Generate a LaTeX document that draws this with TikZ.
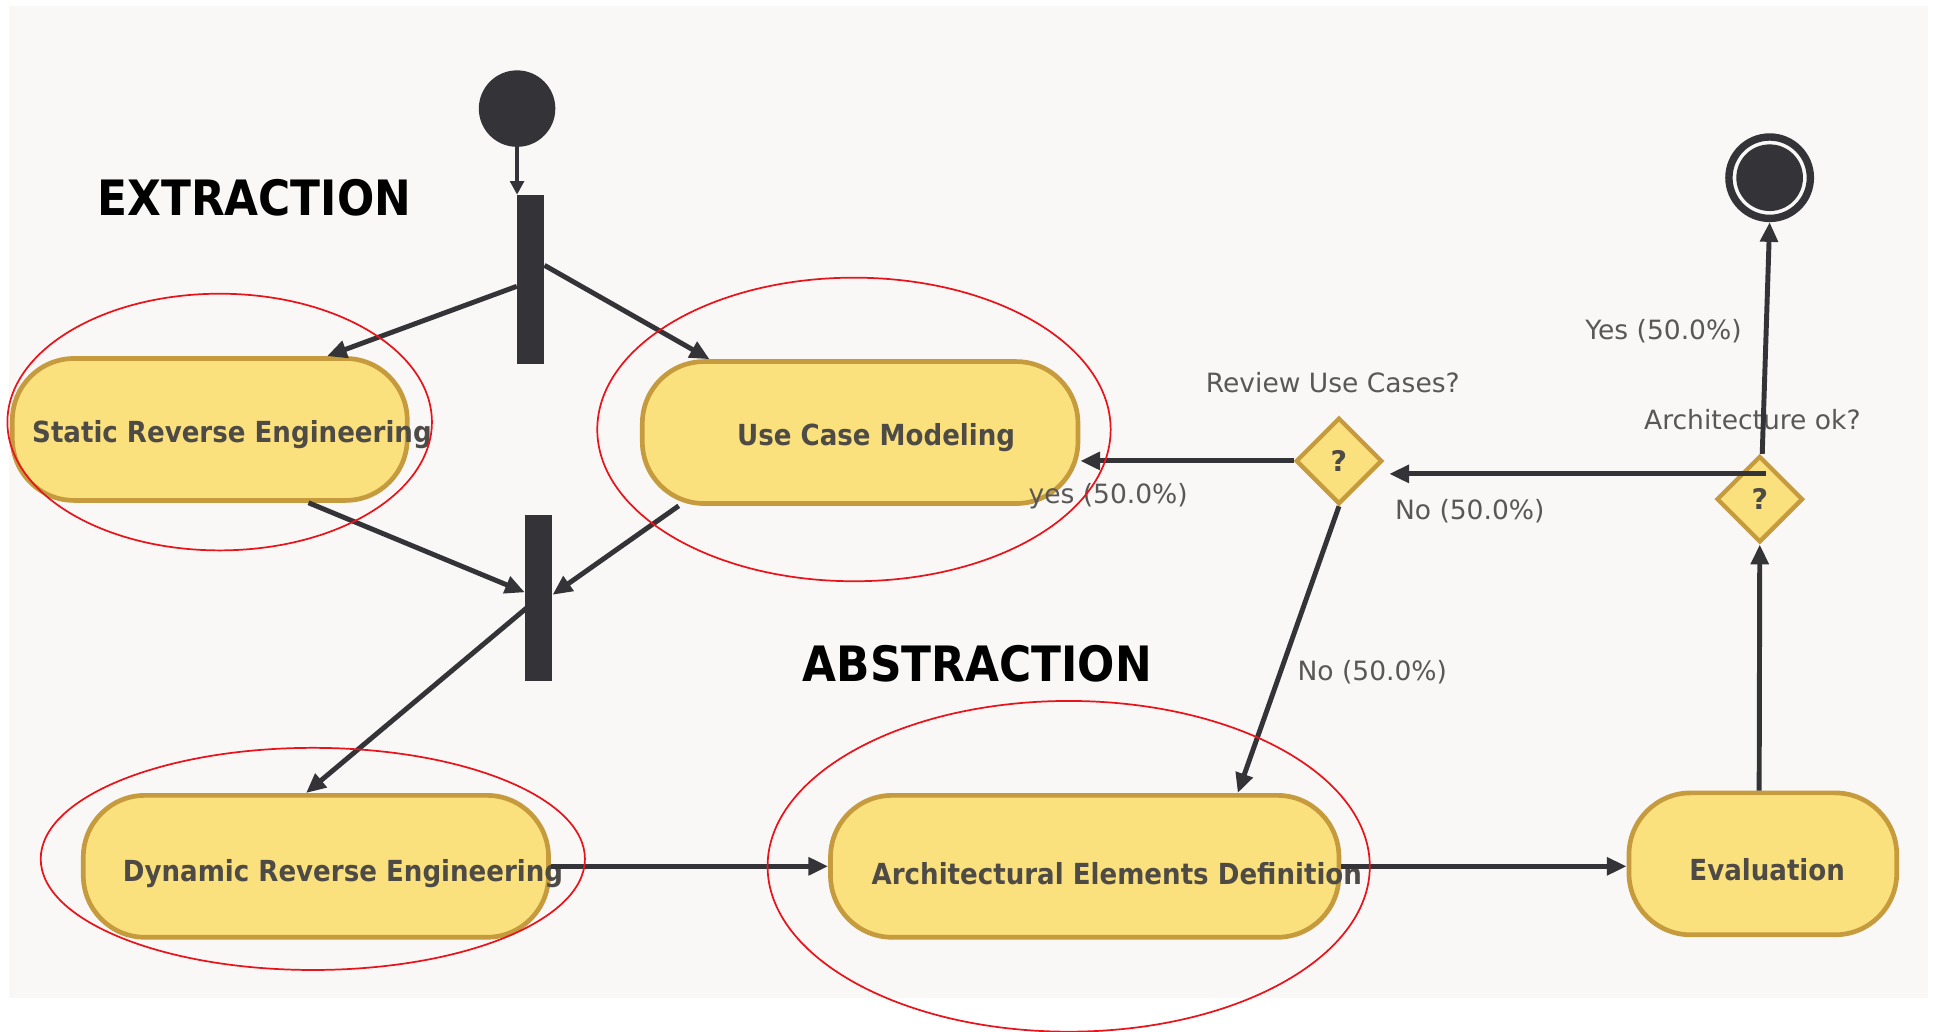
\documentclass[tikz,border=0pt]{standalone}
\usepackage{fontspec}
\setmainfont{DejaVu Sans}
\newfontfamily\cond{DejaVu Sans Condensed}[BoldFont={DejaVu Sans Condensed Bold}]
\usetikzlibrary{arrows.meta,shapes.geometric,calc}
\definecolor{bg}{HTML}{F9F8F6}
\definecolor{pill}{HTML}{FBE17D}
\definecolor{pillb}{HTML}{C59B3E}
\definecolor{ink}{HTML}{333338}
\definecolor{txt}{HTML}{4E4B47}
\definecolor{lab}{HTML}{5A5856}
\definecolor{ered}{HTML}{E8141B}
\tikzset{
  act/.style={draw=pillb, fill=pill, line width=3.8pt, rounded corners=50pt, minimum height=115pt, inner sep=0pt},
  acttext/.style={font=\cond\bfseries\fontsize{23.5}{24}\selectfont, text=txt, inner sep=0pt},
  lbl/.style={font=\fontsize{21.5}{22}\selectfont, text=lab, inner sep=0pt},
  head/.style={font=\cond\bfseries\fontsize{39.5}{40}\selectfont, text=black, inner sep=0pt},
  bar/.style={fill=ink, minimum width=22pt, inner sep=0pt, draw=none},
  dec/.style={diamond, draw=pillb, fill=pill, line width=3.5pt, minimum width=70pt, minimum height=70pt, inner sep=0pt, font=\bfseries\fontsize{23}{23}\selectfont, text=txt},
  flow/.style={draw=ink, line width=4pt, -{Triangle[length=16pt,width=14pt]}},
  hl/.style={draw=ered, line width=1.4pt, ellipse, inner sep=0pt}
}
\begin{document}
\begin{tikzpicture}[x=1pt,y=-1pt]
\useasboundingbox (0,0) rectangle (1568,836);
\fill[bg] (7,5) rectangle (1562,809);

% headings
\node[head] (hext) at (206,160) {EXTRACTION};
\node[head] (habs) at (792,538) {ABSTRACTION};

% initial / final
\node[circle, fill=ink, minimum size=62pt, inner sep=0pt] (init) at (419,88) {};
\node[circle, draw=ink, line width=6pt, minimum size=66pt, inner sep=0pt] (finout) at (1434,144) {};
\node[circle, fill=ink, minimum size=54pt, inner sep=0pt] (fin) at (finout.center) {};

% bars
\node[bar, minimum height=137pt] (fork) at (430,226.5) {};
\node[bar, minimum height=135pt] (join) at (436.5,484.5) {};

% activities
\node[act, minimum width=320pt] (sre) at (170,348) {};
\node[act, minimum width=353pt] (ucm) at (697,350.5) {};
\node[act, minimum width=377pt] (dre) at (256,702) {};
\node[act, minimum width=412pt] (aed) at (879,702) {};
\node[act, minimum width=217pt] (eva) at (1428.5,700) {};
\node[acttext] (sret) at (188,352) {Static Reverse Engineering};
\node[acttext] (ucmt) at (710,355) {Use Case Modeling};
\node[acttext] (dret) at (278,708) {Dynamic Reverse Engineering};
\node[acttext] (aedt) at (905,708) {Architectural Elements Definition};
\node[acttext] (evat) at (1432,705) {Evaluation};

% decisions
\node[dec] (d1) at (1085,373.5) {?};
\node[dec] (d2) at (1426,404.5) {?};

% labels
\node[lbl] (l1) at (1080,310) {Review Use Cases?};
\node[lbl] (l2) at (1420,340) {Architecture ok?};
\node[lbl] (l3) at (1348,268) {Yes (50.0\%)};
\node[lbl] (l4) at (1191,414) {No (50.0\%)};
\node[lbl] (l5) at (898,402) {yes (50.0\%)};
\node[lbl] (l6) at (1112,545) {No (50.0\%)};

% connectors
\draw[draw=ink, line width=2.8pt, -{Triangle[length=11pt,width=11pt]}] (init.south) -- (init.south |- fork.north);
\draw[flow] ([yshift=-5.5pt]fork.west) -- ([xshift=95pt]sre.north);
\draw[flow] ([yshift=11.5pt]fork.east) -- ([xshift=-122pt]ucm.north);
\draw[flow] ([xshift=80pt]sre.south) -- ([yshift=4.5pt]join.west);
\draw[flow] ([xshift=-147pt]ucm.south) -- ([yshift=2.5pt]join.east);
\draw[flow] ([xshift=-6pt,yshift=-5pt]join.center) -- ([xshift=-8pt]dre.north);
\draw[flow] (dre.east) -- (aed.west);
\draw[flow] (aed.east) -- (aed.east -| eva.west);
\draw[flow] ([xshift=-3pt]eva.north) -- (d2.south);
\draw[flow] ([xshift=2pt]d2.north) -- (finout.south);
\draw[flow] ([xshift=-32pt,yshift=20.5pt]d2.east) -- ([xshift=4pt,yshift=-10.5pt]d1.east);
\draw[flow] (d1.west) -- (d1.west -| ucm.east);
\draw[flow] (d1.south) -- ([xshift=124pt]aed.north);

% red highlight ellipses
\node[hl, minimum width=344pt, minimum height=208pt] (e1) at (178,342) {};
\node[hl, minimum width=416pt, minimum height=246pt] (e2) at (692,348) {};
\node[hl, minimum width=441pt, minimum height=180pt] (e3) at (253.5,696) {};
\node[hl, minimum width=488pt, minimum height=268pt] (e4) at (866,702) {};
\end{tikzpicture}
\end{document}
